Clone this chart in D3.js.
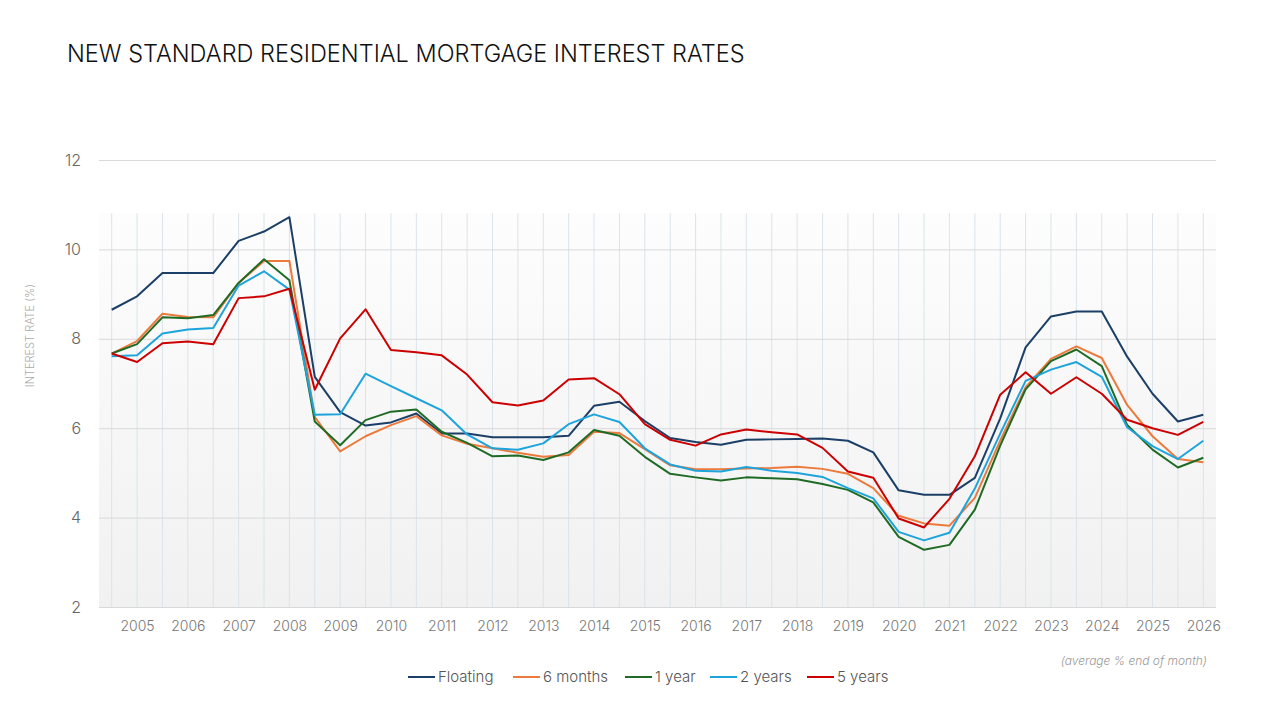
<!DOCTYPE html>
<html>
<head>
<meta charset="utf-8">
<script src="https://cdn.jsdelivr.net/npm/d3@7"></script>
<style>
  html, body { margin: 0; padding: 0; background: #ffffff; }
  svg { display: block; }
</style>
</head>
<body>
<svg id="chart" width="1280" height="720"></svg>
<script>
// ---- data (half-yearly points, from mid-2004 to start of 2026) ----
const periods = d3.range(44); // index 0 = 2004.5, step half a year
const yearLabels = ["2005","2006","2007","2008","2009","2010","2011","2012","2013","2014","2015","2016","2017","2018","2019","2020","2021","2022","2023","2024","2025","2026"];
const yTicks = [2, 4, 6, 8, 10, 12];
const seriesNames = ["Floating", "6 months", "1 year", "2 years", "5 years"];
const seriesColors = ["#1b3f66", "#ec7a3c", "#1f6b25", "#1ea4dc", "#cc0000"];

const floating = [8.65, 8.95, 9.47, 9.47, 9.47, 10.19, 10.40, 10.72, 7.15, 6.36, 6.06, 6.13, 6.33, 5.88, 5.88, 5.80, 5.80, 5.80, 5.83, 6.50, 6.59, 6.16, 5.78, 5.69, 5.63, 5.74, 5.75, 5.76, 5.77, 5.72, 5.46, 4.61, 4.51, 4.51, 4.89, 6.22, 7.81, 8.50, 8.61, 8.61, 7.60, 6.77, 6.15, 6.30];
const sixMonths = [7.67, 7.95, 8.56, 8.49, 8.48, 9.25, 9.74, 9.74, 6.25, 5.48, 5.82, 6.07, 6.27, 5.84, 5.65, 5.55, 5.45, 5.36, 5.40, 5.92, 5.89, 5.53, 5.17, 5.08, 5.08, 5.10, 5.11, 5.14, 5.09, 4.98, 4.66, 4.04, 3.87, 3.82, 4.44, 5.72, 6.92, 7.55, 7.83, 7.57, 6.52, 5.82, 5.31, 5.24];
const oneYear = [7.67, 7.88, 8.48, 8.46, 8.53, 9.25, 9.78, 9.31, 6.15, 5.62, 6.18, 6.37, 6.42, 5.92, 5.67, 5.37, 5.39, 5.29, 5.46, 5.96, 5.83, 5.36, 4.98, 4.90, 4.83, 4.90, 4.88, 4.86, 4.75, 4.62, 4.34, 3.57, 3.28, 3.39, 4.18, 5.61, 6.87, 7.50, 7.76, 7.39, 6.07, 5.52, 5.12, 5.34];
const twoYears = [7.61, 7.63, 8.12, 8.21, 8.24, 9.19, 9.51, 9.10, 6.30, 6.31, 7.22, 6.94, 6.67, 6.40, 5.86, 5.55, 5.52, 5.66, 6.09, 6.31, 6.14, 5.55, 5.19, 5.05, 5.03, 5.13, 5.05, 5.00, 4.91, 4.66, 4.43, 3.68, 3.49, 3.66, 4.65, 5.88, 7.06, 7.31, 7.48, 7.15, 6.02, 5.60, 5.31, 5.72];
const fiveYears = [7.67, 7.48, 7.90, 7.94, 7.88, 8.91, 8.95, 9.12, 6.86, 8.01, 8.66, 7.75, 7.70, 7.63, 7.20, 6.58, 6.51, 6.62, 7.09, 7.12, 6.76, 6.09, 5.74, 5.61, 5.86, 5.97, 5.91, 5.86, 5.56, 5.03, 4.89, 3.98, 3.78, 4.42, 5.37, 6.75, 7.25, 6.77, 7.14, 6.77, 6.19, 6.00, 5.85, 6.14];

const seriesValues = [floating, sixMonths, oneYear, twoYears, fiveYears];

// ---- layout ----
const svg = d3.select("#chart");
const font = "Inter, 'Open Sans', sans-serif";
const plotLeft = 99, plotRight = 1216, plotTop = 160, plotBottom = 607;

const x = d3.scalePoint().domain(periods).range([plotLeft, plotRight]).padding(0.5);
const y = d3.scaleLinear().domain([2, 12]).range([plotBottom, plotTop]);

// gradient background
const defs = svg.append("defs");
const grad = defs.append("linearGradient").attr("id", "bg").attr("x1", 0).attr("y1", 0).attr("x2", 0).attr("y2", 1);
grad.append("stop").attr("offset", "0%").attr("stop-color", "#fdfdfd");
grad.append("stop").attr("offset", "100%").attr("stop-color", "#f1f1f1");

const allMax = d3.max(seriesValues.flat());
const bgTop = y(allMax) - 4;
svg.append("rect")
  .attr("x", plotLeft).attr("y", bgTop)
  .attr("width", plotRight - plotLeft).attr("height", plotBottom - bgTop)
  .attr("fill", "url(#bg)");

// vertical grid lines at every point
svg.append("g")
  .selectAll("line")
  .data(periods)
  .join("line")
  .attr("x1", d => x(d)).attr("x2", d => x(d))
  .attr("y1", bgTop).attr("y2", plotBottom)
  .attr("stroke", "#dae4ea").attr("stroke-width", 1);

// horizontal grid + y axis labels
const yAxis = d3.axisLeft(y).tickValues(yTicks).tickSize(-(plotRight - plotLeft)).tickPadding(18);
const gy = svg.append("g").attr("transform", `translate(${plotLeft},0)`).call(yAxis);
gy.select(".domain").remove();
gy.selectAll(".tick line").attr("stroke", "#d9d9d9").attr("stroke-width", 1);
gy.selectAll(".tick text")
  .attr("fill", "#666").style("font-family", font).style("font-size", "16px").style("font-weight", 300);

// x axis year labels (at January points: odd indices)
const yearIdx = periods.filter(i => i % 2 === 1);
const xAxis = d3.axisBottom(x).tickValues(yearIdx)
  .tickFormat(i => yearLabels[(i - 1) / 2]).tickSize(0).tickPadding(14);
const gx = svg.append("g").attr("transform", `translate(0,${plotBottom})`).call(xAxis);
gx.select(".domain").remove();
gx.selectAll(".tick text")
  .attr("fill", "#777").style("font-family", font).style("font-size", "14px").style("font-weight", 300);

// lines
const line = d3.line().x((d, i) => x(periods[i])).y(d => y(d));
svg.append("g")
  .selectAll("path")
  .data(seriesValues)
  .join("path")
  .attr("d", d => line(d))
  .attr("fill", "none")
  .attr("stroke", (d, i) => seriesColors[i])
  .attr("stroke-width", 2)
  .attr("stroke-linejoin", "round");

// title
svg.append("text")
  .attr("x", 67).attr("y", 62)
  .style("font-family", font).style("font-size", "23.5px").style("font-weight", 300)
  .attr("fill", "#111")
  .text("NEW STANDARD RESIDENTIAL MORTGAGE INTEREST RATES");

// y axis title
svg.append("text")
  .attr("transform", `translate(34,${(plotTop + plotBottom) / 2 - 48}) rotate(-90)`)
  .attr("text-anchor", "middle")
  .style("font-family", font).style("font-size", "11px").style("font-weight", 300)
  .attr("fill", "#aaa")
  .text("INTEREST RATE (%)");

// note
svg.append("text")
  .attr("x", 1207).attr("y", 665)
  .attr("text-anchor", "end")
  .style("font-family", font).style("font-size", "12px").style("font-style", "italic").style("font-weight", 300)
  .attr("fill", "#999")
  .text("(average % end of month)");

// legend
const legendX = [408, 513, 625, 710, 807];
const lg = svg.append("g");
const items = lg.selectAll("g").data(seriesNames).join("g")
  .attr("transform", (d, i) => `translate(${legendX[i]},677)`);
items.append("line").attr("x1", 0).attr("x2", 27).attr("y1", 0).attr("y2", 0)
  .attr("stroke", (d, i) => seriesColors[i]).attr("stroke-width", 2);
items.append("text").attr("x", 30).attr("y", 5)
  .style("font-family", font).style("font-size", "15px").style("font-weight", 300)
  .attr("fill", "#555").text(d => d);
</script>
</body>
</html>
